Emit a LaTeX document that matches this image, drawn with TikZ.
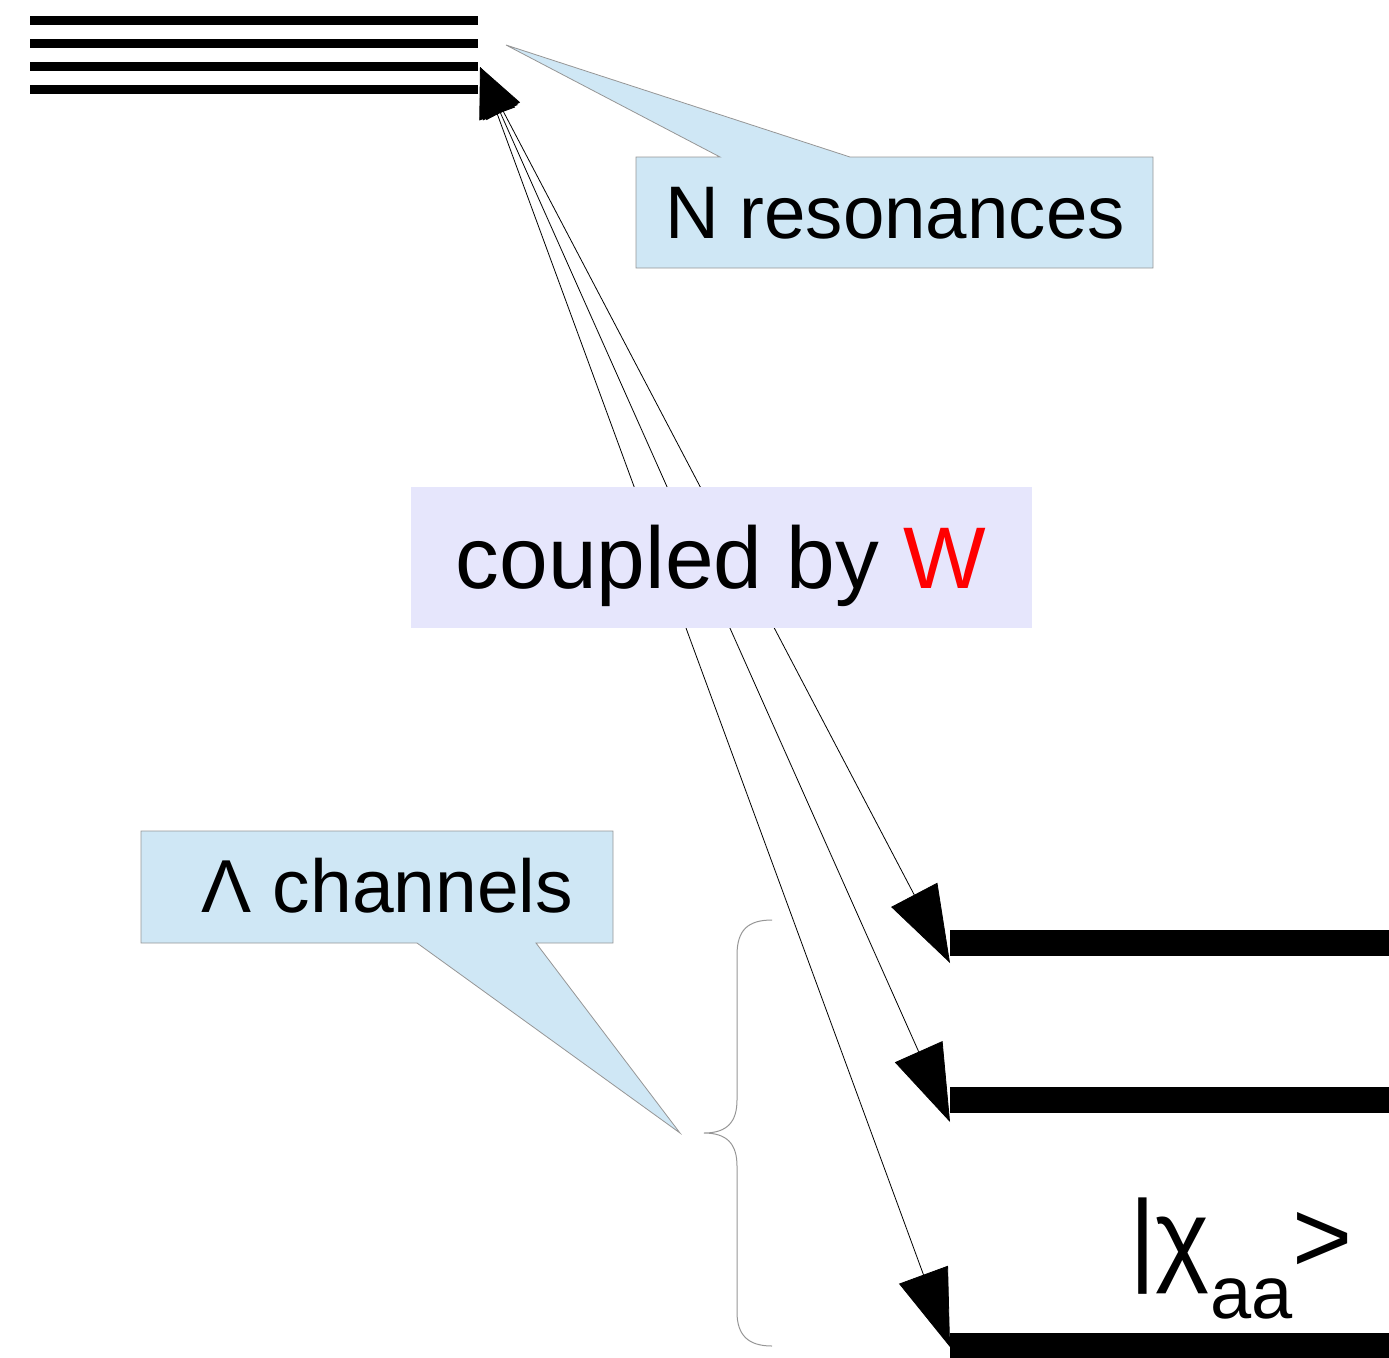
\documentclass[tikz,border=0pt]{standalone}
\usepackage{fontspec}
\setmainfont{Liberation Sans}
\usetikzlibrary{arrows.meta}

\definecolor{callblue}{RGB}{207,231,245}
\definecolor{calledge}{RGB}{150,150,150}
\definecolor{lavbox}{RGB}{230,230,252}

\begin{document}
\begin{tikzpicture}[x=1pt,y=-1pt,
  level/.style={line width=9pt},
  channel/.style={line width=26pt},
  coupling/.style={line width=0.8pt,{Triangle[length=50pt,width=38pt]}-{Triangle[length=77pt,width=52pt]}},
  callout/.style={draw=calledge,fill=callblue,line width=0.8pt},
  bracecol/.style={draw=calledge,line width=1pt},
  label/.style={inner sep=0pt,font=\fontsize{#1}{#1}\selectfont}]

\useasboundingbox (0,0) rectangle (1389,1357);

% resonances
\foreach \y in {20,43,66,89}
  \draw [level] (30,\y) -- (478,\y);
\coordinate (res) at (480,67);

% channels
\draw [channel] (950,943) -- (1389,943);
\draw [channel] (950,1100) -- (1389,1100);
\draw [channel] (950,1346) -- (1389,1346);
\coordinate (ch1) at (950,963);
\coordinate (ch2) at (950,1122);
\coordinate (ch3) at (950,1347);

% couplings
\draw [coupling] (res) -- (ch1);
\draw [coupling] (res) -- (ch2);
\draw [coupling] (res) -- (ch3);

\draw [fill=lavbox,draw=none] (411,487) rectangle (1032,628);
\node [label=87.5,anchor=base] (cpl) at (721,588) {coupled by \textcolor{red}{W}};

% callouts
\draw [callout] (636,157) -- (720,157) -- (506,45) -- (850,157) -- (1153,157) -- (1153,268) -- (636,268) -- cycle;
\node [label=74.5,anchor=base] (nres) at (895,238) {N resonances};

\draw [callout] (141,831) -- (613,831) -- (613,943) -- (536,943) -- (680,1133) -- (417,943) -- (141,943) -- cycle;
\node [label=75,anchor=base] (lchan) at (387.5,912) {Λ channels};

% brace
\draw [bracecol] (772,920) .. controls (748,920) and (737,930) .. (737,955) -- (737,1100)
  .. controls (737,1122) and (727,1133) .. (704,1133)
  .. controls (727,1133) and (737,1144) .. (737,1166) -- (737,1312)
  .. controls (737,1335) and (748,1346) .. (772,1346);

\node [label=103,anchor=base west] (ket) at (1129,1272) {|χ\raisebox{-46pt}{\fontsize{74}{74}\selectfont aa}>};

\end{tikzpicture}
\end{document}
